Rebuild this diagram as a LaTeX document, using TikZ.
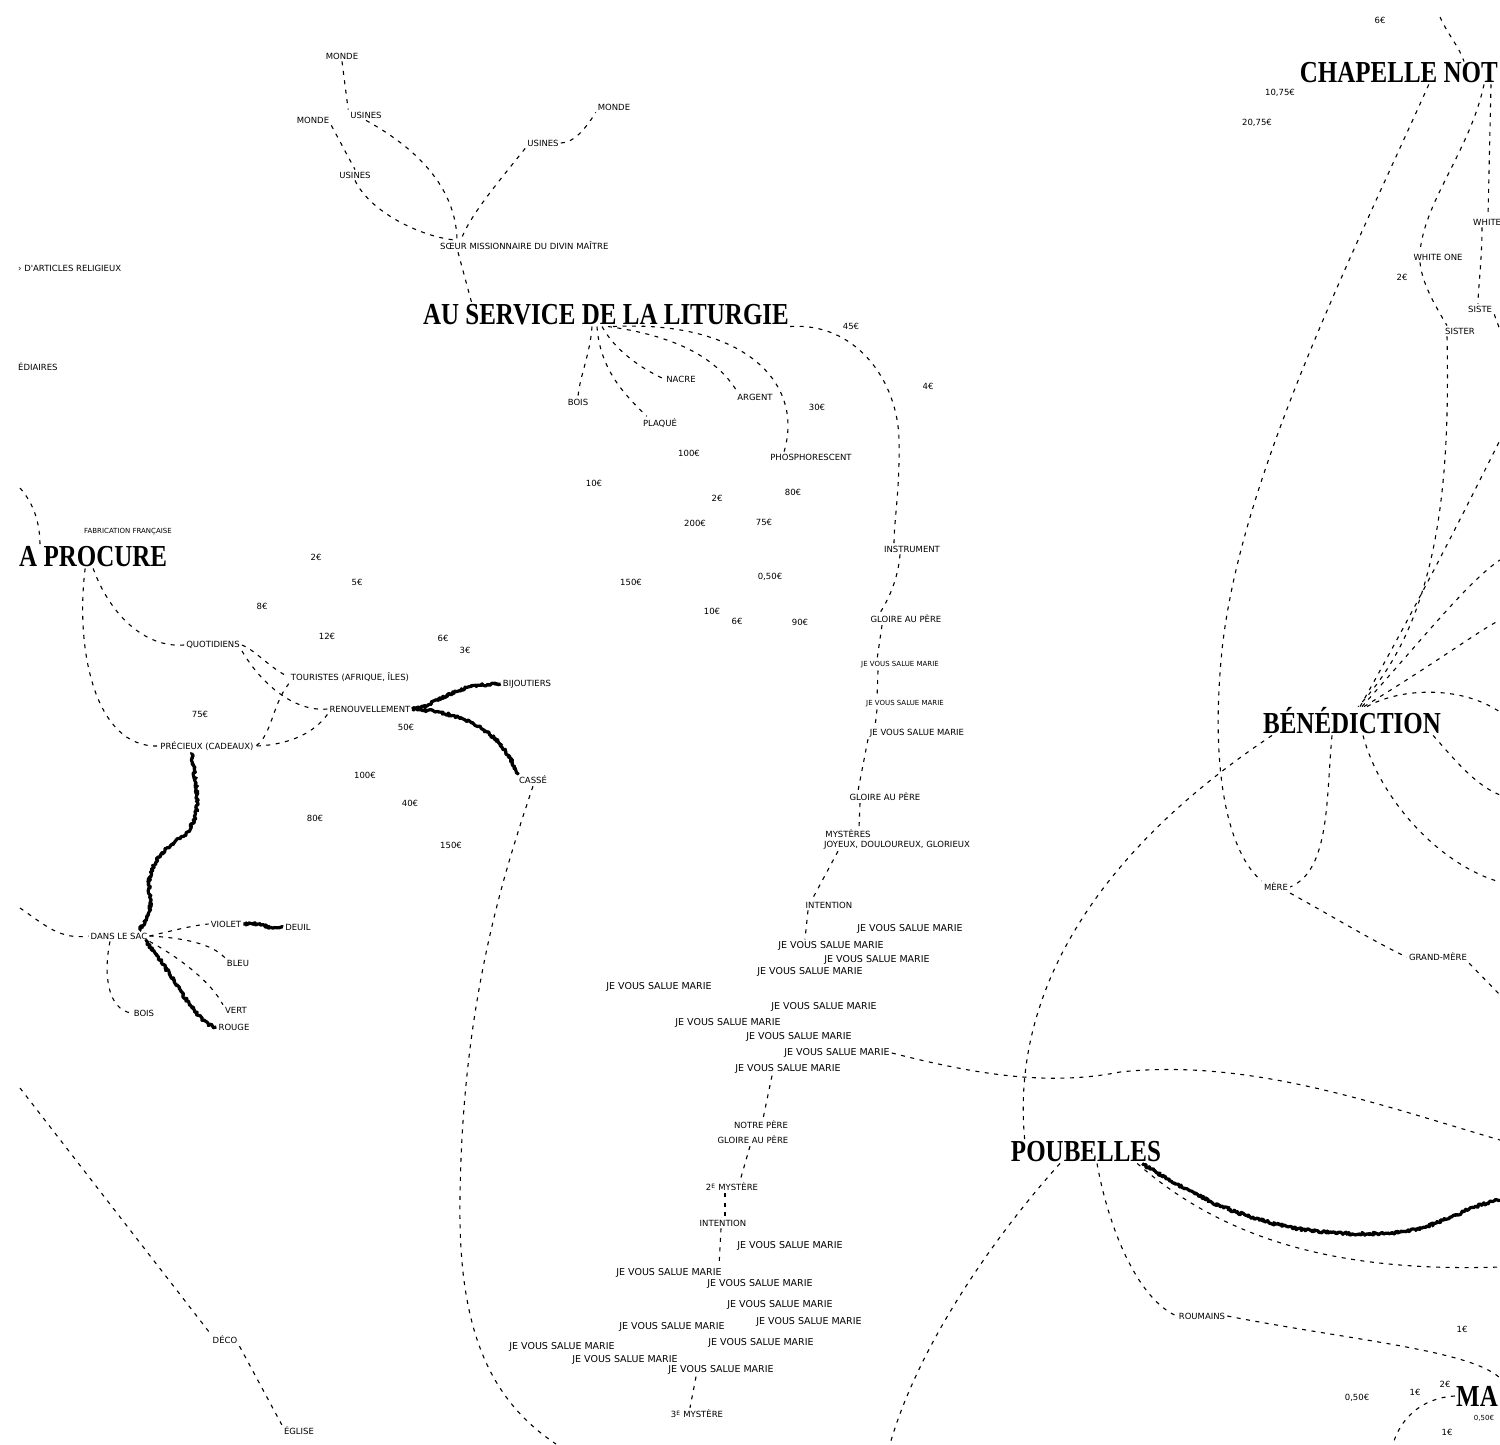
\documentclass[tikz,border=0pt]{standalone}
\usepackage{fontspec}
\usepackage{graphicx}
\setmainfont{Liberation Serif}
\newfontfamily\plume{DejaVu Sans}
\usepackage{tikz}
\usetikzlibrary{positioning}
\usetikzlibrary{decorations.pathmorphing}
\newcommand{\haut}[1]{\scalebox{1}[1.22]{#1}}
\tikzset{
 lbl/.style={font=\plume\fontsize{8.5}{9}\selectfont, inner sep=2pt},
 petit/.style={font=\plume\fontsize{7}{8}\selectfont, inner sep=2pt},
 salue/.style={font=\plume\fontsize{9.5}{10}\selectfont, inner sep=2pt},
 titre/.style={font=\bfseries\fontsize{25}{25}\selectfont, inner sep=1pt},
 lien/.style={dash pattern=on 4pt off 5.5pt, line width=1.1pt},
 trait/.style={line width=3.2pt, line join=round, decorate, decoration={random steps, segment length=1.3pt, amplitude=1.4pt}},
}

\begin{document}
\begin{tikzpicture}[x=1pt, y=-1pt]
\fill[white] (0,0) rectangle (1500,1444);
\useasboundingbox (0,0) rectangle (1500,1444);

\node[lbl] (monde1) at (342,56) {MONDE};
\node[lbl] (usines1) at (366,115) {USINES};
 \draw[lien] (monde1.south) -- (usines1.north west);
\node[lbl] (monde2) at (313,120) {MONDE};
\node[lbl] (usines2) at (355,175) {USINES};
 \draw[lien] (monde2.south east) -- (usines2.north);
\node[lbl] (usines3) at (543,143) {USINES};
\node[lbl] (monde3) at (614,107) {MONDE};
 \draw[lien] (usines3.east) .. controls (575,143) and (588,125) .. (monde3.south west);
\node[lbl, anchor=west] (soeur) at (438,246) {SŒUR MISSIONNAIRE DU DIVIN MAÎTRE};
 \draw[lien] (usines1.south) .. controls (420,150) and (456,190) .. ([xshift=19pt]soeur.north west);
 \draw[lien] (usines2.south) .. controls (370,212) and (420,236) .. ([xshift=15pt]soeur.north west);
 \draw[lien] (usines3.south west) .. controls (500,180) and (470,215) .. ([xshift=23pt]soeur.north west);
\node[titre] (liturgie) at (606,315) {\haut{AU SERVICE DE LA LITURGIE}};
 \draw[lien] ([xshift=20pt]soeur.south west) -- ([xshift=50pt]liturgie.north west);

\node[lbl, anchor=west] (articles) at (16,268) {› D'ARTICLES RELIGIEUX};
\node[lbl, anchor=west] (mediaires) at (16,367) {ÉDIAIRES};

\node[lbl] (bois1) at (578,402) {BOIS};
\node[lbl] (plaque) at (660,423) {PLAQUÉ};
\node[lbl] (nacre) at (681,379) {NACRE};
\node[lbl] (argent) at (755,397) {ARGENT};
\node[lbl] (phospho) at (811,457) {PHOSPHORESCENT};
 \draw[lien] ([xshift=-14pt]liturgie.south) .. controls (590,355) and (580,375) .. (bois1.north);
 \draw[lien] ([xshift=-9pt]liturgie.south) .. controls (600,370) and (625,395) .. ([xshift=6pt]plaque.north west);
 \draw[lien] ([xshift=-4pt]liturgie.south) .. controls (615,350) and (640,368) .. (nacre.west);
 \draw[lien] ([xshift=2pt]liturgie.south) .. controls (670,335) and (715,355) .. ([xshift=2pt]argent.north west);
 \draw[lien] ([xshift=7pt]liturgie.south) .. controls (740,320) and (805,380) .. ([xshift=16pt]phospho.north west);

\node[lbl] (p45) at (851,326) {45€};
\node[lbl] (p4) at (928,386) {4€};
\node[lbl] (p30) at (817,407) {30€};
\node[lbl] (p100a) at (689,453) {100€};
\node[lbl] (p10a) at (594,483) {10€};
\node[lbl] (p2a) at (717,498) {2€};
\node[lbl] (p80a) at (793,492) {80€};
\node[lbl] (p200) at (695,523) {200€};
\node[lbl] (p75a) at (764,522) {75€};
\node[lbl] (p150a) at (631,582) {150€};
\node[lbl] (p050a) at (770,577) {0,50€};
\node[lbl] (p10b) at (712,611) {10€};
\node[lbl] (p6a) at (737,621) {6€};
\node[lbl] (p90) at (800,622) {90€};

\node[lbl] (instrument) at (912,549) {INSTRUMENT};
 \draw[lien] (liturgie.south east) .. controls (855,322) and (898,380) .. (899,440) .. controls (900,490) and (894,520) .. ([xshift=-18pt]instrument.north);
\node[lbl] (gloire1) at (906,619) {GLOIRE AU PÈRE};
 \draw[lien] ([xshift=-12pt]instrument.south) .. controls (898,580) and (888,600) .. ([xshift=-26pt]gloire1.north);
\node[petit] (salue1) at (900,665) {JE VOUS SALUE MARIE};
 \draw[lien] ([xshift=-24pt]gloire1.south) -- ([xshift=-23pt]salue1.north);
\node[petit] (salue2) at (905,704) {JE VOUS SALUE MARIE};
 \draw[lien] ([xshift=-22pt]salue1.south) -- ([xshift=-28pt]salue2.north);
\node[lbl] (salue3) at (917,733) {JE VOUS SALUE MARIE};
 \draw[lien] ([xshift=-28pt]salue2.south) -- ([xshift=-42pt]salue3.north);
\node[lbl] (gloire2) at (885,797) {GLOIRE AU PÈRE};
 \draw[lien] ([xshift=-49pt]salue3.south) -- ([xshift=-27pt]gloire2.north);
\node[lbl] (mysteres) at (848,834) {MYSTÈRES};
\node[lbl] (joyeux) at (897,845) {JOYEUX, DOULOUREUX, GLORIEUX};
 \draw[lien] ([xshift=-25pt]gloire2.south) -- ([xshift=11pt]mysteres.north);
\node[lbl] (intention1) at (829,905) {INTENTION};
 \draw[lien] ([xshift=-59pt]joyeux.south) -- ([xshift=-17pt]intention1.north);

\node[salue] (salue4) at (910,929) {JE VOUS SALUE MARIE};
\node[salue] (salue5) at (831,946) {JE VOUS SALUE MARIE};
 \draw[lien] ([xshift=-21pt]intention1.south) -- ([xshift=-26pt]salue5.north);
\node[salue] (salue6) at (877,960) {JE VOUS SALUE MARIE};
\node[salue] (salue7) at (810,972) {JE VOUS SALUE MARIE};
\node[salue] (salue8) at (659,987) {JE VOUS SALUE MARIE};
\node[salue] (salue9) at (824,1007) {JE VOUS SALUE MARIE};
\node[salue] (salue10) at (728,1023) {JE VOUS SALUE MARIE};
\node[salue] (salue11) at (799,1037) {JE VOUS SALUE MARIE};
\node[salue] (salue12) at (837,1053) {JE VOUS SALUE MARIE};
\node[salue] (salue13) at (788,1069) {JE VOUS SALUE MARIE};
\coordinate (jout) at (1500,1140);
 \draw[lien] (salue12.east) .. controls (960,1070) and (1040,1088) .. (1120,1072) .. controls (1250,1058) and (1380,1105) .. (jout);

\node[lbl] (notre) at (761,1125) {NOTRE PÈRE};
\node[lbl] (gloire3) at (753,1140) {GLOIRE AU PÈRE};
 \draw[lien] ([xshift=-16pt]salue13.south) -- ([xshift=2pt]notre.north);
\node[lbl] (mystere2) at (732,1187) {2\textsuperscript{E} MYSTÈRE};
 \draw[lien] ([xshift=-3pt]gloire3.south) -- ([xshift=8pt]mystere2.north);
\node[lbl] (intention2) at (723,1223) {INTENTION};
 \draw[lien] ([xshift=-7pt]mystere2.south) -- ([xshift=2pt]intention2.north);

\node[salue] (salue14) at (790,1246) {JE VOUS SALUE MARIE};
\node[salue] (salue15) at (669,1273) {JE VOUS SALUE MARIE};
 \draw[lien] ([xshift=-2pt]intention2.south) -- ([xshift=50pt]salue15.north);
\node[salue] (salue16) at (760,1284) {JE VOUS SALUE MARIE};
\node[salue] (salue17) at (780,1305) {JE VOUS SALUE MARIE};
\node[salue] (salue18) at (672,1327) {JE VOUS SALUE MARIE};
\node[salue] (salue19) at (809,1322) {JE VOUS SALUE MARIE};
\node[salue] (salue20) at (562,1347) {JE VOUS SALUE MARIE};
\node[salue] (salue21) at (761,1343) {JE VOUS SALUE MARIE};
\node[salue] (salue22) at (625,1360) {JE VOUS SALUE MARIE};
\node[salue] (salue23) at (721,1370) {JE VOUS SALUE MARIE};
\node[lbl] (mystere3) at (697,1414) {3\textsuperscript{E} MYSTÈRE};
 \draw[lien] ([xshift=-25pt]salue23.south) -- ([xshift=-7pt]mystere3.north);

\coordinate (procin) at (20,488);
\node[titre, anchor=west] (procure) at (18,557) {\haut{A PROCURE}};
\node[petit] (fabrication) at (128,532) {FABRICATION FRANÇAISE};
 \draw[lien] (procin) .. controls (35,505) and (40,525) .. ([xshift=22pt]procure.north west);
\node[lbl] (quotidiens) at (213,645) {QUOTIDIENS};
\node[lbl] (touristes) at (350,677) {TOURISTES (AFRIQUE, ÎLES)};
\node[lbl] (renouv) at (370,709) {RENOUVELLEMENT};
\node[lbl] (precieux) at (207,746) {PRÉCIEUX (CADEAUX)};
\node[lbl] (bijoutiers) at (527,684) {BIJOUTIERS};
\node[lbl] (casse) at (533,780) {CASSÉ};
 \draw[lien] (procure.south) .. controls (110,615) and (145,648) .. (quotidiens.west);
 \draw[lien] ([xshift=-8pt]procure.south) .. controls (75,650) and (95,748) .. (precieux.west);
 \draw[lien] (quotidiens.east) .. controls (255,650) and (270,668) .. (touristes.west);
 \draw[lien] (quotidiens.south east) .. controls (262,685) and (295,712) .. (renouv.west);
 \draw[lien] (touristes.south west) .. controls (272,705) and (272,735) .. (precieux.east);
 \draw[lien] (renouv.south west) .. controls (315,732) and (290,745) .. (precieux.east);
 \draw[trait] (renouv.east) .. controls (440,705) and (450,684) .. (bijoutiers.west);
 \draw[trait] (renouv.east) .. controls (455,712) and (500,725) .. (casse.north west);
\coordinate (bas1) at (556,1444);
 \draw[lien] (casse.south) .. controls (505,870) and (462,1000) .. (460,1200) .. controls (458,1330) and (490,1400) .. (bas1);

\node[lbl] (p2b) at (316,557) {2€};
\node[lbl] (p5) at (357,582) {5€};
\node[lbl] (p8) at (262,606) {8€};
\node[lbl] (p12) at (327,636) {12€};
\node[lbl] (p6b) at (443,638) {6€};
\node[lbl] (p3) at (465,650) {3€};
\node[lbl] (p75b) at (200,714) {75€};
\node[lbl] (p50) at (406,727) {50€};
\node[lbl] (p100b) at (365,775) {100€};
\node[lbl] (p40) at (410,803) {40€};
\node[lbl] (p80b) at (315,818) {80€};
\node[lbl] (p150b) at (451,845) {150€};

\coordinate (dansin) at (20,908);
\node[lbl] (sac) at (119,936) {DANS LE SAC};
\node[lbl] (violet) at (226,924) {VIOLET};
\node[lbl] (deuil) at (298,927) {DEUIL};
\node[lbl] (bleu) at (238,963) {BLEU};
\node[lbl] (vert) at (236,1010) {VERT};
\node[lbl] (rouge) at (234,1027) {ROUGE};
\node[lbl] (bois2) at (144,1013) {BOIS};
 \draw[trait] ([xshift=-15pt]precieux.south) .. controls (195,790) and (205,810) .. (185,835) .. controls (160,850) and (145,870) .. (150,895) .. controls (153,910) and (145,920) .. ([xshift=-10pt]sac.north east);
 \draw[lien] (dansin) .. controls (45,925) and (60,940) .. (sac.west);
 \draw[lien] (sac.east) .. controls (175,930) and (195,925) .. (violet.west);
 \draw[trait] (violet.east) .. controls (260,922) and (270,930) .. (deuil.west);
 \draw[lien] (sac.east) .. controls (185,938) and (212,944) .. (bleu.north west);
 \draw[lien] (sac.south east) .. controls (175,955) and (210,980) .. (vert.north west);
 \draw[trait] ([xshift=-4pt]sac.south east) .. controls (175,975) and (195,1025) .. (rouge.west);
 \draw[lien] ([xshift=-9pt]sac.south) .. controls (103,975) and (108,1010) .. (bois2.west);

\coordinate (decoin) at (20,1088);
\node[lbl] (deco) at (225,1340) {DÉCO};
\node[lbl] (eglise) at (299,1431) {ÉGLISE};
 \draw[lien] (decoin) -- (deco.north west);
 \draw[lien] (deco.south east) -- (eglise.north west);

\coordinate (chapin) at (1440,17);
\node[lbl] (p6c) at (1380,20) {6€};
\node[titre, anchor=east] (chapelle) at (1499,73) {\haut{CHAPELLE NOT}};
\node[lbl] (p1075) at (1280,93) {10,75€};
\node[lbl] (p2075) at (1257,123) {20,75€};
 \draw[lien] (chapin) .. controls (1448,35) and (1460,48) .. ([xshift=-35pt]chapelle.north east);
\node[lbl] (whiteone) at (1438,257) {WHITE ONE};
\node[lbl, anchor=west] (white) at (1471,222) {WHITE};
\node[lbl] (sister) at (1460,331) {SISTER};
\node[lbl, anchor=west] (siste) at (1466,309) {SISTE};
\node[lbl] (p2c) at (1402,277) {2€};
 \draw[lien] ([xshift=-15pt]chapelle.south east) .. controls (1470,150) and (1425,200) .. ([xshift=-18pt]whiteone.north);
 \draw[lien] ([xshift=-18pt]whiteone.south) .. controls (1422,285) and (1438,310) .. ([xshift=-13pt]sister.north);
 \draw[lien] ([xshift=-8pt]chapelle.south east) -- ([xshift=17pt]white.north west);
 \draw[lien] ([xshift=11pt]white.south west) .. controls (1482,260) and (1478,290) .. ([xshift=12pt]siste.north west);
\coordinate (sout) at (1500,330);
 \draw[lien] (siste.south east) -- (sout);

\node[titre] (benediction) at (1352,721) {\haut{BÉNÉDICTION}};
\node[lbl] (mere) at (1276,887) {MÈRE};
\node[lbl] (grandmere) at (1438,957) {GRAND-MÈRE};
\coordinate (gmout) at (1500,995);
 \draw[lien] ([xshift=30pt]chapelle.south) .. controls (1350,260) and (1240,480) .. (1222,650) .. controls (1208,790) and (1235,860) .. (mere.north west);
 \draw[lien] (mere.south east) .. controls (1330,915) and (1380,945) .. (grandmere.west);
 \draw[lien] (grandmere.south east) -- (gmout);
 \draw[lien] ([xshift=-20pt]benediction.south) .. controls (1326,800) and (1330,870) .. (mere.east);
 \draw[lien] ([xshift=-13pt]sister.south) .. controls (1450,480) and (1440,620) .. ([xshift=6pt]benediction.north);
\coordinate (fout1) at (1500,440);
\coordinate (fout2) at (1500,560);
\coordinate (fout3) at (1500,620);
 \draw[lien] ([xshift=8pt]benediction.north) .. controls (1420,600) and (1470,500) .. (fout1);
 \draw[lien] ([xshift=10pt]benediction.north) .. controls (1430,630) and (1470,580) .. (fout2);
 \draw[lien] ([xshift=12pt]benediction.north) .. controls (1440,660) and (1480,630) .. (fout3);
\coordinate (bout1) at (1500,712);
\coordinate (bout2) at (1500,795);
\coordinate (bout3) at (1500,882);
 \draw[lien] ([xshift=15pt]benediction.north) .. controls (1400,688) and (1460,685) .. (bout1);
 \draw[lien] ([xshift=-9pt]benediction.south east) .. controls (1455,760) and (1475,785) .. (bout2);
 \draw[lien] ([xshift=11pt]benediction.south) .. controls (1380,800) and (1440,865) .. (bout3);

\node[titre] (poubelles) at (1086,1152) {\haut{POUBELLES}};
 \draw[lien] ([xshift=-80pt]benediction.south) .. controls (1100,850) and (1010,990) .. ([xshift=15pt]poubelles.north west);
\node[lbl] (roumains) at (1202,1316) {ROUMAINS};
\coordinate (rout) at (1500,1378);
\coordinate (sout1) at (1500,1200);
\coordinate (dout1) at (1500,1267);
\coordinate (pbout) at (890,1444);
 \draw[lien] ([xshift=11pt]poubelles.south) .. controls (1110,1235) and (1140,1300) .. (roumains.west);
 \draw[lien] (roumains.east) .. controls (1350,1340) and (1470,1350) .. (rout);
 \draw[trait] ([xshift=-20pt]poubelles.south east) .. controls (1230,1220) and (1300,1238) .. (1390,1233) .. controls (1440,1230) and (1465,1205) .. (sout1);
 \draw[lien] ([xshift=-25pt]poubelles.south east) .. controls (1230,1245) and (1350,1272) .. (dout1);
 \draw[lien] ([xshift=-26pt]poubelles.south) .. controls (1000,1230) and (920,1340) .. (pbout);

\node[lbl] (p1a) at (1462,1329) {1€};
\node[titre, anchor=east] (ma) at (1499,1396) {\haut{MA}};
\node[lbl] (p050b) at (1357,1398) {0,50€};
\node[lbl] (p1b) at (1415,1392) {1€};
\node[lbl] (p2d) at (1445,1384) {2€};
\node[petit] (p050c) at (1484,1418) {0,50€};
\node[lbl] (p1c) at (1447,1432) {1€};
\coordinate (maout) at (1393,1444);
 \draw[lien] (ma.west) .. controls (1420,1398) and (1400,1420) .. (maout);
\end{tikzpicture}
\end{document}
